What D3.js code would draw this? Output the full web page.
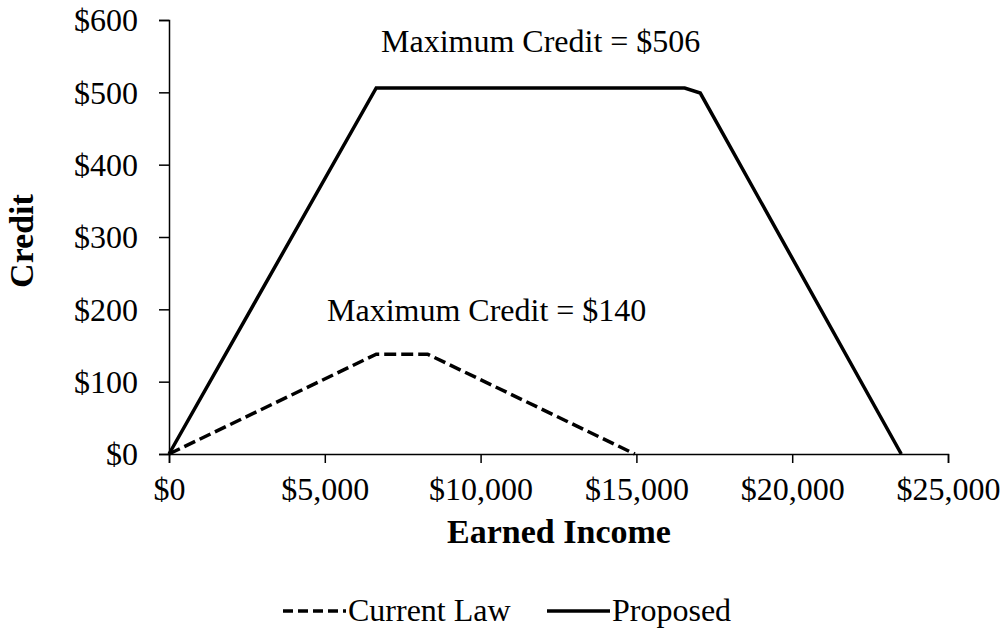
<html>
<head>
    <title>Credit vs Earned Income</title>
    <script src="https://d3js.org/d3.v7.min.js"></script>
    <style>
        body {
            margin: 0;
            background-color: white;
            font-family: "Liberation Serif", "Times New Roman", serif;
        }
        svg text {
            fill: black;
        }
    </style>
</head>
<body>
    <svg id="chart" width="1004" height="629"></svg>

    <script>
        // credit schedules: [earned income, credit]
        const currentIncome = [0, 6650, 8300, 14950];
        const currentCredit = [0, 138, 138, 0];
        const proposedIncome = [0, 6650, 16550, 17050, 23500];
        const proposedCredit = [0, 506, 506, 499, 0];

        const xTicks = [0, 5000, 10000, 15000, 20000, 25000];
        const yTicks = [0, 100, 200, 300, 400, 500, 600];

        const annotations = [
            { text: "Maximum Credit = $506", x: 381, y: 52 },
            { text: "Maximum Credit = $140", x: 327, y: 321 }
        ];

        const svg = d3.select("#chart");

        const x = d3.scaleLinear().domain([0, 25000]).range([169, 948]);
        const y = d3.scaleLinear().domain([0, 600]).range([454, 20]);

        const fmt = d => "$" + d3.format(",")(d);

        // X axis
        const xAxis = svg.append("g")
            .attr("transform", "translate(0," + y(0) + ")")
            .call(d3.axisBottom(x).tickValues(xTicks).tickFormat(fmt).tickSize(9).tickSizeOuter(9).tickPadding(14));

        // Y axis
        const yAxis = svg.append("g")
            .attr("transform", "translate(" + x(0) + ",0)")
            .call(d3.axisLeft(y).tickValues(yTicks).tickFormat(fmt).tickSize(10).tickSizeOuter(10).tickPadding(21));

        [xAxis, yAxis].forEach(a => {
            a.selectAll("text")
                .style("font-family", "'Liberation Serif', 'Times New Roman', serif")
                .style("font-size", "32px")
                .style("fill", "black");
            a.selectAll(".domain, .tick line")
                .style("stroke", "black")
                .style("stroke-width", 1.5);
        });
        yAxis.selectAll("text").attr("dy", "0.34em");

        // axis titles
        svg.append("text")
            .attr("x", 559)
            .attr("y", 543)
            .attr("text-anchor", "middle")
            .style("font-size", "34px")
            .style("font-weight", "bold")
            .text("Earned Income");

        svg.append("text")
            .attr("transform", "translate(33," + 241 + ") rotate(-90)")
            .attr("text-anchor", "middle")
            .style("font-size", "34px")
            .style("font-weight", "bold")
            .text("Credit");

        // lines
        const line = d3.line().x(d => x(d[0])).y(d => y(d[1]));

        svg.append("path")
            .datum(currentIncome.map((v, i) => [v, currentCredit[i]]))
            .attr("d", line)
            .attr("fill", "none")
            .attr("stroke", "black")
            .attr("stroke-width", 3.5)
            .attr("stroke-dasharray", "12,5");

        svg.append("path")
            .datum(proposedIncome.map((v, i) => [v, proposedCredit[i]]))
            .attr("d", line)
            .attr("fill", "none")
            .attr("stroke", "black")
            .attr("stroke-width", 3.5)
            .attr("stroke-linejoin", "miter");

        // annotations
        svg.selectAll(".note")
            .data(annotations)
            .enter()
            .append("text")
            .attr("class", "note")
            .attr("x", d => d.x)
            .attr("y", d => d.y)
            .style("font-size", "32px")
            .text(d => d.text);

        // legend
        const legend = [
            { name: "Current Law", dash: "10,5", x: 283 },
            { name: "Proposed", dash: null, x: 547 }
        ];
        const lg = svg.selectAll(".legend")
            .data(legend)
            .enter()
            .append("g")
            .attr("class", "legend")
            .attr("transform", d => "translate(" + d.x + ",611)");
        lg.append("line")
            .attr("x1", 0).attr("x2", 63)
            .attr("y1", 0).attr("y2", 0)
            .attr("stroke", "black")
            .attr("stroke-width", 3.5)
            .attr("stroke-dasharray", d => d.dash);
        lg.append("text")
            .attr("x", 65)
            .attr("y", 10)
            .style("font-size", "32px")
            .text(d => d.name);
    </script>
</body>
</html>
